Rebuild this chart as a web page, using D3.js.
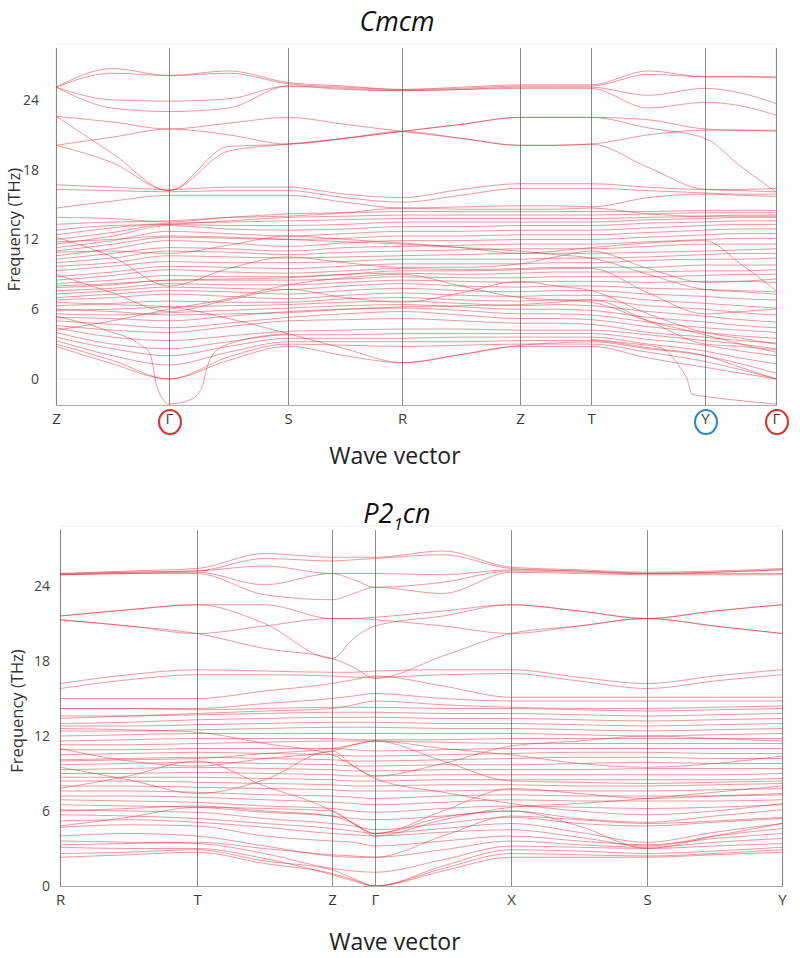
<!DOCTYPE html>
<html><head><meta charset="utf-8">
<script src="https://cdn.jsdelivr.net/npm/d3@7"></script>
<style>
body{margin:0;background:#fff;}
svg text{font-family:"Open Sans","Noto Sans",sans-serif;}
</style></head>
<body><svg id="c" width="800" height="958"></svg>
<script>
// ---------------- DATA ----------------
const kLabelsCmcm = ["Z","Γ","S","R","Z","T","Y","Γ"];
const kPosCmcm = [0, 1.13, 2.32, 3.46, 4.64, 5.35, 6.49, 7.20];
const yTicks = [0, 6, 12, 18, 24];
// band values at each high-symmetry point and segment midpoint (THz)
const bandsCmcm = [
 [25.1,26.7,26.1,26.5,25.5,25.2,24.9,25.1,25.3,25.3,25.3,26.5,26.0,26.0,26.0],
 [25.1,26.3,26.1,26.3,25.4,25.1,24.9,25.0,25.2,25.2,25.2,26.2,26.0,26.0,25.9],
 [25.1,24.0,23.9,24.1,25.2,25.0,24.8,24.9,25.1,25.1,25.1,24.4,25.0,24.6,23.7],
 [25.1,23.3,23.0,23.3,25.2,24.9,24.8,24.9,25.0,25.0,25.0,23.3,23.8,23.5,22.7],
 [22.6,22.1,21.5,22.0,22.5,21.9,21.3,20.7,20.1,20.1,20.2,18.2,16.3,16.2,16.1],
 [20.1,20.8,21.5,21.0,20.2,20.7,21.3,21.9,22.5,22.5,22.5,21.6,20.7,18.3,16.1],
 [22.6,19.4,16.2,20.0,20.2,20.7,21.3,21.9,22.5,22.5,22.5,22.3,21.5,21.4,21.4],
 [20.1,18.6,16.2,19.6,20.2,20.7,21.3,20.7,20.1,20.1,20.2,21.0,21.4,21.4,21.3],
 [16.7,16.5,16.3,16.5,16.5,15.9,15.6,16.3,16.8,16.8,16.8,16.5,16.3,16.3,16.4],
 [16.3,16.2,16.1,16.2,16.2,15.6,15.2,15.8,16.4,16.4,16.4,16.2,16.0,15.9,15.9],
 [14.7,15.3,15.8,15.8,15.8,15.2,14.7,14.8,14.9,14.9,14.8,15.6,15.9,15.8,15.7],
 [13.9,13.8,13.5,13.9,14.0,14.3,14.7,14.6,14.6,14.6,14.7,14.2,14.0,14.0,14.0],
 [2.8,1.3,0.0,1.6,2.8,2.0,1.4,2.1,2.8,2.8,2.8,1.8,1.0,0.5,0.0],
 [3.0,1.6,0.0,1.9,3.0,2.9,2.8,2.9,3.0,3.0,3.0,2.3,1.5,0.8,0.0],
 [3.3,2.0,1.2,2.3,3.2,3.2,3.2,3.2,3.3,3.3,3.3,2.7,2.0,1.0,0.0],
 [3.6,2.6,2.0,2.8,3.5,3.5,3.5,3.6,3.6,3.6,3.6,3.0,2.4,1.8,1.3],
 [4.0,3.0,2.6,3.2,3.8,3.8,3.9,3.9,3.9,3.9,3.9,3.4,2.9,2.4,2.0],
 [4.4,3.6,3.3,3.7,4.1,4.2,4.3,4.3,4.2,4.2,4.2,3.8,3.3,3.0,2.6],
 [4.6,4.2,4.0,4.5,5.0,5.1,5.2,5.0,4.8,4.8,4.7,4.0,3.6,3.3,3.1],
 [5.0,4.7,4.4,4.8,5.3,5.6,5.8,5.5,5.2,5.2,5.1,4.5,4.0,3.7,3.5],
 [5.3,5.2,5.0,5.4,5.8,6.0,6.1,5.9,5.6,5.6,5.5,4.9,4.4,4.2,4.0],
 [5.6,5.5,5.7,5.9,6.1,6.3,6.4,6.2,6.0,6.0,5.9,5.3,4.9,4.6,4.4],
 [5.9,6.0,6.2,6.3,6.4,6.6,6.7,6.5,6.3,6.4,6.3,5.8,5.4,5.1,4.9],
 [6.3,6.5,6.7,6.6,6.6,6.9,7.0,6.8,6.7,6.8,6.8,6.3,6.0,5.7,5.5],
 [6.8,7.0,7.3,7.1,6.9,7.2,7.4,7.2,7.1,7.2,7.2,6.8,6.5,6.3,6.1],
 [7.0,7.3,7.6,7.5,7.3,7.6,7.8,7.6,7.5,7.6,7.6,7.3,7.1,6.9,6.8],
 [7.3,7.6,7.9,7.8,7.7,8.0,8.2,8.0,7.9,8.0,8.0,7.8,7.7,7.6,7.5],
 [7.6,7.8,8.2,8.1,8.1,8.3,8.5,8.4,8.3,8.4,8.4,8.3,8.4,8.4,8.3],
 [7.85,8.1,8.5,8.5,8.5,8.6,8.8,8.7,8.7,8.8,8.8,8.8,8.9,9.0,9.0],
 [8.2,8.5,8.9,8.8,8.8,9.0,9.1,9.0,9.1,9.2,9.2,9.2,9.3,9.3,9.4],
 [8.5,8.9,9.4,9.2,9.1,9.3,9.5,9.4,9.5,9.6,9.6,9.6,9.8,9.8,9.8],
 [8.8,9.2,9.7,9.6,9.5,9.7,9.9,9.9,9.9,10.0,10.0,10.2,10.3,10.3,10.4],
 [9.3,9.7,10.1,10.0,10.0,10.1,10.3,10.3,10.3,10.4,10.4,10.5,10.7,10.8,10.8],
 [9.7,10.0,10.6,10.5,10.4,10.5,10.6,10.7,10.8,10.8,10.8,10.9,11.0,11.1,11.2],
 [10.0,10.4,11.0,10.9,10.7,10.9,11.0,11.1,11.2,11.2,11.2,11.4,11.6,11.6,11.6],
 [10.3,10.8,11.3,11.2,11.0,11.3,11.4,11.5,11.6,11.6,11.6,11.8,12.0,12.1,12.1],
 [10.6,11.2,11.9,11.7,11.4,11.7,11.9,11.9,12.0,12.0,12.0,12.2,12.4,12.5,12.5],
 [11.0,11.6,12.2,12.1,12.0,12.1,12.3,12.3,12.4,12.4,12.4,12.6,12.8,12.9,12.9],
 [11.3,11.9,12.7,12.5,12.3,12.5,12.7,12.7,12.8,12.8,12.8,13.0,13.2,13.3,13.3],
 [11.6,12.3,13.2,12.9,12.8,12.9,13.1,13.1,13.2,13.2,13.2,13.4,13.5,13.6,13.6],
 [12.0,12.6,13.3,13.2,13.2,13.3,13.5,13.5,13.5,13.5,13.5,13.7,13.8,13.9,13.9],
 [12.4,13.0,13.4,13.5,13.6,13.7,13.8,13.8,13.8,13.8,13.8,13.9,14.0,14.1,14.1],
 [12.8,13.2,13.3,13.6,13.9,14.0,14.1,14.1,14.1,14.1,14.1,14.2,14.3,14.3,14.3],
 [13.3,13.5,13.6,13.9,14.2,14.3,14.4,14.4,14.4,14.4,14.4,14.4,14.5,14.5,14.5],
 [6.6,6.4,6.2,5.2,3.9,2.6,1.4,2.1,2.9,3.1,3.2,2.6,2.0,1.3,0.5],
 [9.0,7.4,5.8,6.8,7.7,7.0,6.6,7.4,8.4,8.0,7.6,5.6,4.0,3.5,3.0],
 [12.2,10.5,8.0,9.5,10.5,10.0,9.6,9.6,9.9,10.5,11.0,9.5,8.3,8.4,8.6],
 [4.2,5.0,6.0,6.9,8.1,8.7,9.0,8.0,7.0,6.8,6.6,5.0,3.8,3.0,2.3],
 [10.9,11.0,10.8,11.5,12.3,12.0,11.7,11.3,10.8,11.0,11.3,11.7,11.9,9.9,7.6],
 [8.0,8.2,8.5,8.6,8.7,9.0,9.3,9.3,9.4,9.5,9.5,7.4,5.6,5.8,6.0],
 [6.0,5.8,5.5,5.6,5.7,6.0,6.2,6.3,6.4,6.6,6.8,5.0,3.0,2.8,2.5],
 [11.8,12.0,12.3,12.2,12.0,11.8,11.6,11.3,11.0,10.7,10.4,9.0,7.7,7.5,7.3]
];
// soft (imaginary) modes, own k samples
const softCmcmK = [
 [0, 0.5, 0.85, 0.94, 1.01, 1.13, 1.34, 1.46, 1.51, 1.6, 1.8, 2.32],
 [5.35, 5.7, 6.04, 6.24, 6.31, 6.36, 6.49, 6.77, 7.20]
];
const softCmcmF = [
 [5.4, 4.2, 2.9, 2.2, -0.7, -2.15, -1.8, -0.7, 1.0, 2.4, 3.2, 3.9],
 [3.4, 3.1, 2.7, 1.0, 0.0, -1.3, -1.5, -1.8, -2.15]
];
const circledCmcm = [1, 6, 7];
const circleColorsCmcm = ["#d9342f", "#2f86c8", "#d9342f"];

const kLabelsP21cn = ["R","T","Z","Γ","X","S","Y"];
const kPosP21cn = [0, 1.37, 2.72, 3.15, 4.51, 5.87, 7.22];
const bandsP21cn = [
 [25.0,25.2,25.4,26.6,26.3,26.3,26.3,26.8,25.5,25.3,25.1,25.2,25.4],
 [24.9,25.1,25.2,26.2,26.0,26.1,26.2,26.5,25.4,25.2,25.0,25.1,25.3],
 [24.9,25.0,25.1,24.1,25.0,24.5,23.9,24.3,25.2,25.1,25.0,25.0,25.0],
 [24.9,25.0,25.0,23.3,22.9,23.4,23.9,23.4,25.1,25.0,24.9,24.9,24.9],
 [25.0,25.1,25.2,25.6,25.0,25.0,25.0,24.9,25.3,25.2,25.0,25.1,25.3],
 [21.6,22.1,22.5,22.5,21.4,21.4,21.5,22.0,22.5,22.0,21.4,22.0,22.5],
 [21.3,20.8,20.2,20.8,21.4,21.4,21.3,20.8,20.2,20.8,21.4,20.8,20.2],
 [21.6,22.1,22.5,21.0,18.2,19.8,20.8,21.6,22.5,22.0,21.4,22.0,22.5],
 [21.3,20.8,20.2,19.0,18.2,17.5,16.6,18.4,20.2,20.8,21.4,20.8,20.2],
 [16.2,16.9,17.3,17.2,17.1,17.1,17.2,17.3,17.3,16.7,16.2,16.8,17.3],
 [15.8,16.5,16.9,16.9,16.8,16.7,16.7,16.9,17.0,16.4,15.8,16.4,16.9],
 [15.0,15.0,15.0,15.6,16.2,16.5,16.8,16.0,15.1,15.1,15.1,15.1,15.1],
 [14.2,14.2,14.2,14.6,15.0,15.2,15.4,15.0,14.8,14.8,14.8,14.8,14.8],
 [13.4,13.6,13.8,14.0,14.2,14.5,14.8,14.5,14.3,14.2,14.2,14.3,14.4],
 [2.3,2.5,2.7,1.8,1.0,0.5,0.0,1.2,2.3,2.3,2.3,2.5,2.7],
 [2.6,2.7,2.9,2.0,1.3,0.6,0.0,1.4,2.6,2.5,2.4,2.6,2.9],
 [3.1,3.0,3.0,2.2,0.9,0.4,0.0,1.6,2.9,2.8,2.6,2.8,3.1],
 [3.6,3.5,3.4,2.6,1.4,1.2,1.1,2.1,3.2,3.1,3.0,3.2,3.4],
 [4.0,4.2,4.0,3.2,2.4,2.3,2.3,2.9,3.6,3.3,3.1,3.5,3.8],
 [4.7,4.9,4.8,4.0,3.6,3.5,3.2,3.6,4.0,3.6,3.3,3.8,4.2],
 [5.2,5.3,5.1,4.7,4.2,4.1,4.0,4.3,4.5,3.9,3.2,4.0,4.6],
 [5.7,5.6,5.4,5.0,4.6,4.4,4.2,4.6,5.0,4.3,3.5,4.3,5.0],
 [6.1,6.0,5.9,5.4,5.0,4.8,4.5,5.0,5.5,5.0,4.8,5.1,5.4],
 [6.5,6.4,6.3,5.9,5.6,5.4,5.3,5.6,6.0,5.4,5.1,5.6,6.1],
 [6.9,6.8,6.7,6.4,6.2,6.0,5.9,6.2,6.4,6.3,6.2,6.3,6.5],
 [7.2,7.2,7.1,6.9,6.7,6.6,6.5,6.7,6.9,6.8,6.8,6.8,6.9],
 [7.6,7.6,7.5,7.3,7.2,7.1,7.0,7.2,7.3,7.2,7.2,7.2,7.3],
 [8.0,8.0,7.9,7.8,7.7,7.6,7.6,7.6,7.7,7.6,7.6,7.7,7.8],
 [8.4,8.4,8.3,8.2,8.1,8.0,8.0,8.1,8.1,8.0,8.0,8.1,8.2],
 [8.7,8.7,8.7,8.6,8.5,8.4,8.4,8.5,8.5,8.5,8.5,8.5,8.6],
 [9.0,9.0,9.1,9.0,8.9,8.8,8.8,8.9,8.9,8.9,8.9,8.9,9.0],
 [9.3,9.4,9.5,9.4,9.3,9.2,9.2,9.3,9.3,9.3,9.4,9.4,9.4],
 [9.7,9.8,9.9,9.8,9.7,9.6,9.6,9.7,9.7,9.8,9.9,9.8,9.8],
 [10.1,10.2,10.3,10.2,10.1,10.0,10.0,10.1,10.2,10.3,10.3,10.2,10.2],
 [10.5,10.6,10.7,10.6,10.5,10.4,10.4,10.5,10.6,10.7,10.7,10.6,10.6],
 [10.9,10.9,11.0,11.0,11.0,10.9,10.8,10.9,11.0,11.0,11.0,11.0,11.0],
 [11.3,11.3,11.4,11.5,11.6,11.6,11.6,11.5,11.4,11.4,11.4,11.4,11.4],
 [11.6,11.7,11.8,11.8,11.8,11.7,11.7,11.7,11.8,11.8,11.8,11.8,11.8],
 [12.0,12.1,12.2,12.2,12.2,12.2,12.2,12.2,12.2,12.1,12.0,12.1,12.2],
 [12.4,12.4,12.5,12.6,12.7,12.7,12.7,12.6,12.6,12.5,12.4,12.5,12.6],
 [12.8,12.8,12.9,13.0,13.1,13.1,13.1,13.0,13.0,12.9,12.8,12.9,13.0],
 [13.0,13.1,13.3,13.4,13.5,13.5,13.5,13.4,13.4,13.3,13.2,13.3,13.4],
 [13.6,13.6,13.7,13.8,13.9,13.9,13.9,13.8,13.8,13.7,13.6,13.7,13.8],
 [14.2,14.2,14.1,14.2,14.3,14.3,14.3,14.2,14.2,14.1,14.0,14.1,14.2],
 [4.8,5.5,6.3,6.2,6.0,5.0,4.2,5.5,6.0,4.8,3.0,4.0,5.0],
 [9.5,8.5,7.4,8.5,10.8,9.6,8.6,7.5,6.6,6.0,5.7,6.0,6.6],
 [7.8,8.8,10.0,8.0,6.0,5.0,4.0,5.3,6.3,6.6,7.0,7.5,8.0],
 [11.0,10.0,9.6,10.2,10.8,11.3,11.6,11.0,10.5,9.8,9.5,9.8,10.4],
 [6.0,6.2,6.4,6.0,5.6,5.0,4.2,6.0,7.8,7.4,7.0,7.2,7.4],
 [10.0,10.1,10.2,10.6,11.0,11.3,11.6,10.0,8.4,8.3,8.2,8.3,8.4],
 [3.3,3.4,3.5,3.0,2.5,2.4,2.3,4.0,5.6,5.3,5.0,5.2,5.5],
 [12.6,12.5,12.3,11.4,10.5,9.6,8.8,9.8,11.2,11.6,12.0,11.8,11.6]
];

// ---------------- DRAW ----------------
const svg = d3.select("#c");
const lineColor = "#e2323f";

function sampleK(kp){
  const out = [];
  for (let i = 0; i < kp.length; i++){
    out.push(kp[i]);
    if (i < kp.length - 1) out.push((kp[i] + kp[i+1]) / 2);
  }
  return out;
}

function panel(cfg){
  const g = svg.append("g");
  const x = d3.scaleLinear().domain([cfg.kPos[0], cfg.kPos[cfg.kPos.length-1]]).range([cfg.left, cfg.right]);
  const y = d3.scaleLinear().domain(cfg.yDomain).range([cfg.bottom, cfg.top]);
  const id = "clip" + cfg.name;
  svg.append("clipPath").attr("id", id).append("rect")
    .attr("x", cfg.left).attr("y", cfg.top).attr("width", cfg.right - cfg.left).attr("height", cfg.bottom - cfg.top);

  // faint top line and zero line
  g.append("line").attr("x1", cfg.left).attr("x2", cfg.right).attr("y1", y(cfg.yDomain[1]) - 4).attr("y2", y(cfg.yDomain[1]) - 4)
    .attr("stroke", "#eeeeee");
  if (cfg.yDomain[0] < 0){
    g.append("line").attr("x1", cfg.left).attr("x2", cfg.right).attr("y1", y(0)).attr("y2", y(0))
      .attr("stroke", "#dde3ea").attr("stroke-width", 1);
  }

  // x axis with vertical high-symmetry lines
  const xa = d3.axisBottom(x).tickValues(cfg.kPos).tickFormat((d,i) => cfg.labels[i])
    .tickSize(-(cfg.bottom - cfg.top)).tickPadding(8);
  const gx = g.append("g").attr("transform", `translate(0,${cfg.bottom})`).call(xa);
  gx.select(".domain").attr("stroke", "#a9a9a9").attr("stroke-width", 1.2);
  gx.selectAll(".tick line").attr("stroke", "#8a8a8a").attr("stroke-width", 1);
  gx.selectAll(".tick text").attr("font-size", 15).attr("fill", "#3a3a3a")
    .attr("font-family", "'Open Sans','Noto Sans',sans-serif");

  // y axis
  const ya = d3.axisLeft(y).tickValues(yTicks).tickSize(0).tickPadding(cfg.yPad);
  const gy = g.append("g").attr("transform", `translate(${cfg.left},0)`).call(ya);
  gy.select(".domain").remove();
  gy.selectAll(".tick text").attr("font-size", 14).attr("fill", "#444")
    .attr("font-family", "'Open Sans','Noto Sans',sans-serif");

  // bands
  const ks = sampleK(cfg.kPos);
  const line = d3.line().x(d => x(d[0])).y(d => y(d[1])).curve(d3.curveMonotoneX);
  const bg = g.append("g").attr("clip-path", `url(#${id})`);
  bg.selectAll("path.band").data(cfg.bands).join("path").attr("class", "band")
    .attr("d", b => line(b.map((f, i) => [ks[i], f])))
    .attr("fill", "none").attr("stroke", lineColor).attr("stroke-opacity", 0.5).attr("stroke-width", 1);
  if (cfg.softK){
    bg.selectAll("path.soft").data(cfg.softK).join("path").attr("class", "soft")
      .attr("d", (kk, j) => line(kk.map((k, i) => [k, cfg.softF[j][i]])))
      .attr("fill", "none").attr("stroke", lineColor).attr("stroke-opacity", 0.5).attr("stroke-width", 1);
  }

  // circles around labels
  if (cfg.circled){
    cfg.circled.forEach((ci, j) => {
      g.append("ellipse").attr("cx", x(cfg.kPos[ci]) + 1).attr("cy", cfg.bottom + 17)
        .attr("rx", 11).attr("ry", 12).attr("fill", "none")
        .attr("stroke", cfg.circleColors[j]).attr("stroke-width", 2);
    });
  }

  // title
  const t = g.append("text").attr("x", 397).attr("y", cfg.titleY).attr("text-anchor", "middle")
    .attr("font-size", 27).attr("font-style", "italic").attr("fill", "#111");
  cfg.title(t);

  // axis titles
  g.append("text").attr("x", 395).attr("y", cfg.xTitleY).attr("text-anchor", "middle")
    .attr("font-size", 23).attr("fill", "#222").text("Wave vector");
  g.append("text").attr("transform", `translate(${cfg.yTitleX},${(cfg.top + cfg.bottom)/2 + 3}) rotate(-90)`)
    .attr("text-anchor", "middle").attr("font-size", 16.5).attr("fill", "#333").text("Frequency (THz)");
}

panel({name:"A", kPos:kPosCmcm, labels:kLabelsCmcm, bands:bandsCmcm, softK:softCmcmK, softF:softCmcmF,
  left:56, right:776, top:48, bottom:405, yDomain:[-2.24, 28.47], yPad:17,
  circled:circledCmcm, circleColors:circleColorsCmcm, titleY:31, xTitleY:464, yTitleX:20,
  title: t => t.text("Cmcm")});

panel({name:"B", kPos:kPosP21cn, labels:kLabelsP21cn, bands:bandsP21cn,
  left:60, right:782, top:530, bottom:886, yDomain:[0, 28.48], yPad:10,
  titleY:523, xTitleY:950, yTitleX:23,
  title: t => { t.append("tspan").text("P2");
    t.append("tspan").attr("font-size", 17).attr("dy", 7).text("1");
    t.append("tspan").attr("dy", -7).text("cn"); }});
</script></body></html>
